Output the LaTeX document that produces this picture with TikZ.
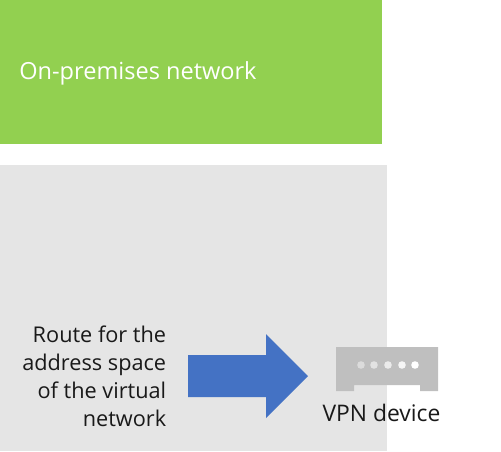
\documentclass[tikz,border=0pt]{standalone}
\usepackage{fontspec}
\setmainfont{Open Sans}
\definecolor{onpremgreen}{HTML}{92D050}
\definecolor{vnetgray}{HTML}{E5E5E5}
\definecolor{devgray}{HTML}{BFBFBF}
\definecolor{routeblue}{HTML}{4472C4}
\tikzset{
	lbl/.style={inner sep=0pt,font=\fontsize{12.35pt}{16pt}\selectfont,text=black!90},
	devdot/.style={white,opacity=#1}
}
\begin{document}
\begin{tikzpicture}[x=0.02cm,y=-0.02cm]
	\useasboundingbox (0,0) rectangle (501,451);
	\fill[onpremgreen] (0,0) rectangle (382,144);
	\fill[vnetgray] (0,165) rectangle (387,451);
	\node[lbl,text=white,anchor=base west,font=\fontsize{13.4pt}{16pt}\selectfont] (onprem) at (19,79) {On-premises network};
	\node[lbl,anchor=base east] (route) at (166.5,342) {Route for the};
	\node[lbl,anchor=base east] (addr) at (166.5,370) {address space};
	\node[lbl,anchor=base east] (virt) at (166.5,398) {of the virtual};
	\node[lbl,anchor=base east] (net) at (166.5,426) {network};
	\fill[routeblue] (188,355)--(266,355)--(266,334)--(308,376)--(266,418)--(266,397)--(188,397)--cycle;
	\fill[devgray] (336,347)--(438,347)--(438,391)--(420,391)--(420,385)--(354,385)--(354,391)--(336,391)--cycle;
	\fill[devdot=0.45] (361,365) circle (3.8);
	\fill[devdot=0.55] (374,365) circle (3.8);
	\fill[devdot=0.7] (388,365) circle (3.8);
	\fill[devdot=0.85] (402,365) circle (3.8);
	\fill[devdot=1] (415,365) circle (3.8);
	\node[lbl,anchor=base,font=\fontsize{13pt}{16pt}\selectfont] (vpn) at (381.5,421) {VPN device};
\end{tikzpicture}
\end{document}
